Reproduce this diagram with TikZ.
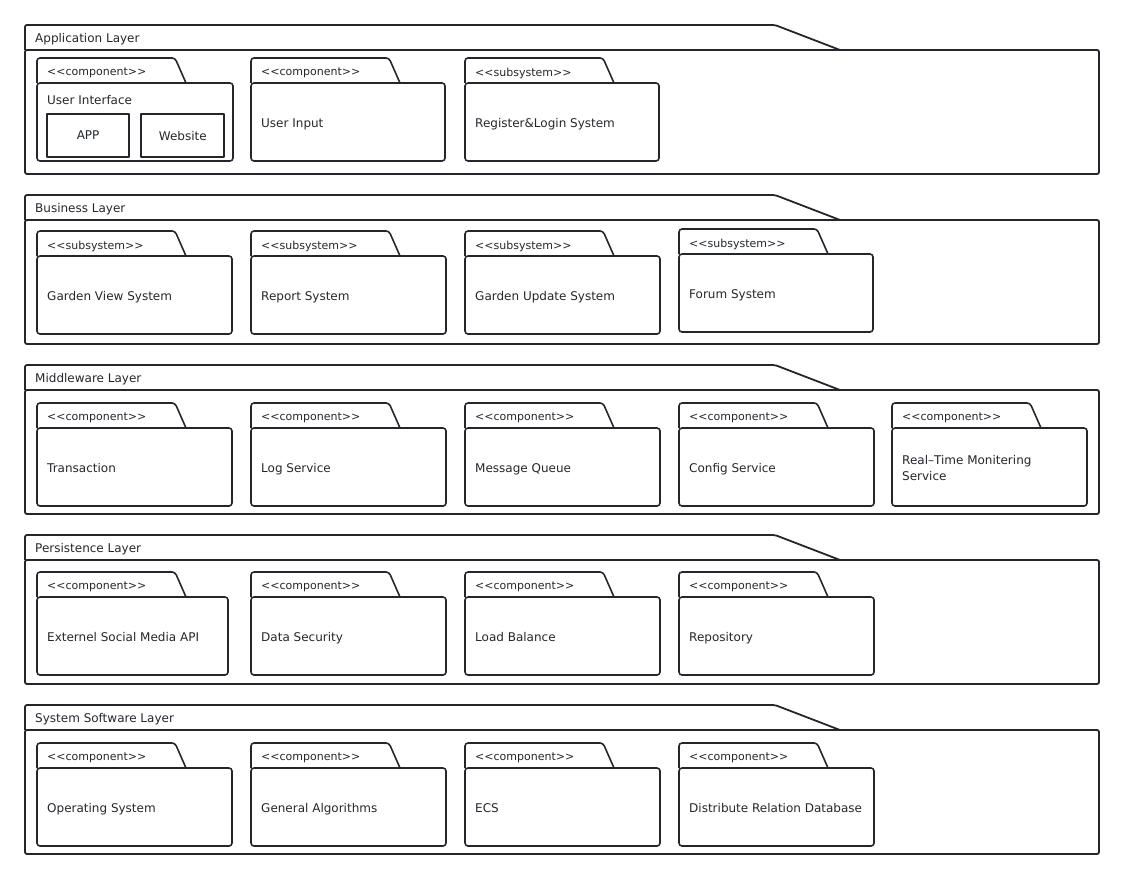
\documentclass[tikz,border=0pt]{standalone}
\usepackage{fontspec}
\setmainfont{DejaVu Sans}[Ligatures=TeXOff]
\usepackage{tikz}
\usetikzlibrary{positioning}
\definecolor{umlline}{HTML}{23272B}

\newcommand{\umlpkg}[6]{%
  \node[pkgbody, minimum width=#4pt] (#1) at (#2,#3) {};
  \draw[pkgtab] (#1.north west) -- ++(0,-25) -- ++(138,0) -- ++(11,25);
  \node[stereo] (#1-st) at ([xshift=10pt,yshift=10pt]#1.north west) {#5};
  \node[pkgtext] (#1-n) at ([xshift=10pt,yshift=-2.5pt]#1.west) {\strut #6\strut};
}

\begin{document}
\begin{tikzpicture}[x=1pt, y=-1pt, line join=round,
    every node/.style = {font=\fontsize{12}{16}\selectfont, text=umlline},
    layerbody/.style = {draw=umlline, line width=1.8pt, rounded corners=2pt, anchor=north west,
      minimum width=1074pt, minimum height=124pt, inner sep=0pt, outer sep=0pt},
    layertab/.style = {draw=umlline, line width=1.8pt, rounded corners=2pt},
    layername/.style = {anchor=west, inner sep=0pt},
    pkgbody/.style = {draw=umlline, line width=1.6pt, rounded corners=3pt, anchor=north west,
      minimum height=78pt, inner sep=0pt, outer sep=0pt},
    pkgtab/.style = {draw=umlline, line width=1.6pt, rounded corners=3pt},
    pkgtext/.style = {anchor=west, inner sep=0pt, align=left},
    stereo/.style = {anchor=west, inner sep=0pt, font=\fontsize{11}{13}\selectfont},
    uibox/.style = {draw=umlline, line width=2.2pt, minimum height=43pt, inner sep=0pt, anchor=north west}]
    \useasboundingbox (0,0) rectangle (1124,880);

    % layers
    \foreach \lname/\ly/\ltext in {appl/50/Application Layer, busl/220/Business Layer,
        midl/390/Middleware Layer, perl/560/Persistence Layer, sysl/730/System Software Layer} {
      \node[layerbody] (\lname) at (25,\ly) {};
      \draw[layertab] (\lname.north west) -- ++(0,-25) -- ++(750,0) -- ++(65,25);
      \node[layername] (\lname-t) at ([xshift=10pt,yshift=10.5pt]\lname.north west) {\ltext};
    }

    % application layer
    \umlpkg{uipkg}{37}{83}{196}{<<component>>}{}
    \node[anchor=west, inner sep=0pt] (uitxt) at ([xshift=10pt,yshift=-17pt]uipkg.north west) {User Interface};
    \node[uibox, minimum width=82pt] (app) at ([xshift=9pt,yshift=-30pt]uipkg.north west) {APP};
    \node[uibox, minimum width=83pt, right=10pt of app] (web) {Website};
    \umlpkg{uinput}{251}{83}{194}{<<component>>}{User Input}
    \umlpkg{reglog}{465}{83}{194}{<<subsystem>>}{Register\&Login System}

    % business layer
    \foreach \pn/\px/\pt in {gview/37/Garden View System, report/251/Report System,
        gupd/465/Garden Update System}
      \umlpkg{\pn}{\px}{256}{195}{<<subsystem>>}{\pt};
    \umlpkg{forum}{679}{254}{194}{<<subsystem>>}{Forum System}

    % middleware layer
    \foreach \pn/\px/\pt in {trans/37/Transaction, logsvc/251/Log Service, msgq/465/Message Queue,
        cfgsvc/679/Config Service, rtmon/892/Real–Time Monitering\\Service}
      \umlpkg{\pn}{\px}{428}{195}{<<component>>}{\pt};

    % persistence layer
    \umlpkg{extapi}{37}{597}{191}{<<component>>}{Externel Social Media API}
    \foreach \pn/\px/\pt in {datasec/251/Data Security, loadbal/465/Load Balance, repo/679/Repository}
      \umlpkg{\pn}{\px}{597}{195}{<<component>>}{\pt};

    % system software layer
    \foreach \pn/\px/\pt in {opsys/37/Operating System, genalg/251/General Algorithms, ecs/465/ECS,
        drdb/679/Distribute Relation Database}
      \umlpkg{\pn}{\px}{768}{195}{<<component>>}{\pt};
\end{tikzpicture}
\end{document}
